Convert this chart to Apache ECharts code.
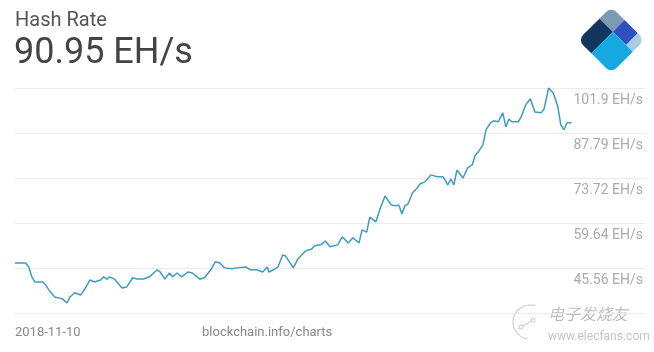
<!DOCTYPE html>
<html>
<head>
<meta charset="utf-8">
<script src="https://cdn.jsdelivr.net/npm/echarts@6/dist/echarts.min.js"></script>
<style>
  html, body { margin: 0; padding: 0; background: #fff; }
  #chart { width: 654px; height: 352px; }
</style>
</head>
<body>
<div id="chart"></div>
<script>
// days since 2018-11-10
var days = [0,1,2,7,9,11,13,18,20,23,
  26,31,34,36,39,43,46,49,52,56,
  58,60,62,65,70,73,77,80,84,88,
  93,95,98,101,103,106,109,113,116,121,
  124,128,131,134,137,142,145,151,154,158,
  162,165,166,169,172,175,177,182,185,190,
  194,196,200,203,206,211,214,218,221,225,
  227,230,232,236,239,242,246,249,251,253,
  255,257,260,263,265,268,272,276,280,283,
  285,287,289,293,296,299,301,303,306,308,
  311,313,316,319,321,323,325,329,331,334,
  337,340,344,346,349,352,355,357,359,361,
  364];
// hash rate, EH/s
var hashRate = [47.1,46.5,47.1,47.1,45.9,42.8,41.2,41.2,40.3,38.1,
  36.5,35.9,34.6,36.5,37.8,37.1,39.3,41.8,41.2,41.8,
  42.8,42.1,42.8,42.1,39.3,39.6,42.5,42.1,42.1,42.8,
  45.0,44.3,42.1,44.0,42.8,44.0,42.8,44.3,44.0,42.1,
  42.5,45.0,47.5,47.1,45.6,45.3,45.6,45.9,45.0,45.0,
  44.3,45.9,44.3,45.0,45.9,49.6,49.3,45.6,48.4,50.9,
  51.5,52.5,52.8,54.0,52.2,52.8,55.3,53.4,55.0,53.4,
  57.5,56.8,61.5,60.0,64.4,68.1,65.3,65.0,65.3,62.5,
  65.0,65.6,69.1,70.6,71.9,72.5,74.7,74.1,74.1,71.6,
  73.4,71.6,76.2,73.7,76.9,77.8,80.9,81.9,84.1,88.8,
  91.0,91.6,91.3,94.1,89.7,92.2,91.3,91.3,92.8,96.6,
  98.5,94.4,94.1,95.3,101.9,100.3,96.0,90.3,88.8,91.0,
  91.0];
var tickLabels = ['45.56 EH/s','59.64 EH/s','73.72 EH/s','87.79 EH/s','101.9 EH/s'];

var chart = echarts.init(document.getElementById('chart'));

var points = [];
for (var i = 0; i < Math.min(days.length, hashRate.length); i++) {
  points.push([days[i], hashRate[i]]);
}

// logo: square turned 45deg, pieces in units of its side
var side = 47;
function piece(u0, u1, v0, v1, color, r) {
  return {
    type: 'rect',
    shape: { x: u0 * side, y: v0 * side, width: (u1 - u0) * side, height: (v1 - v0) * side, r: r },
    style: { fill: color }
  };
}

chart.setOption({
  animation: false,
  grid: { left: 15, right: 9, top: 88, bottom: 39 },
  xAxis: { type: 'value', min: 0, max: 412, show: false },
  yAxis: {
    type: 'value',
    position: 'right',
    min: 31.48,
    max: 101.88,
    interval: 14.08,
    axisLine: { show: false },
    axisTick: { show: false },
    splitLine: { lineStyle: { color: '#ebebeb', width: 1 } },
    axisLabel: {
      inside: true,
      margin: 2,
      showMinLabel: false,
      verticalAlign: 'top',
      padding: [5, 0, 0, 0],
      color: '#aaaaaa',
      fontFamily: 'Roboto',
      fontSize: 14,
      formatter: function (v, idx) {
        return idx >= 1 ? (tickLabels[idx - 1] || '') : '';
      }
    }
  },
  series: [{
    type: 'line',
    data: points,
    symbol: 'none',
    lineStyle: { color: '#3d9dc0', width: 1.5 }
  }],
  graphic: [
    { type: 'text', left: 15, top: 11, style: { text: 'Hash Rate', fill: '#555', font: '20px Roboto' } },
    { type: 'text', left: 14, top: 36, style: { text: '90.95 EH/s', fill: '#444', font: '36px Roboto' } },
    { type: 'text', left: 15, top: 326, style: { text: '2018-11-10', fill: '#888', font: '13px Roboto' } },
    { type: 'text', left: 202, top: 326, style: { text: 'blockchain.info/charts', fill: '#888', font: '13px Roboto' } },
    // watermark
    { type: 'arc', shape: { cx: 530, cy: 322, r: 17, startAngle: Math.PI * 0.55, endAngle: Math.PI * 1.6 },
      style: { stroke: '#cfcfcf', lineWidth: 1.2, fill: null } },
    { type: 'circle', shape: { cx: 521, cy: 327, r: 2 }, style: { stroke: '#c8c8c8', fill: null } },
    { type: 'circle', shape: { cx: 533, cy: 320, r: 2 }, style: { stroke: '#c8c8c8', fill: null } },
    { type: 'line', shape: { x1: 522.5, y1: 326, x2: 531.5, y2: 321 }, style: { stroke: '#c8c8c8' } },
    { type: 'text', left: 548, top: 306, style: { text: '电子发烧友', fill: '#bdbdbd', font: 'italic 16px "Noto Sans CJK SC"' } },
    { type: 'text', left: 548, top: 331, style: { text: 'www.elecfans.com', fill: '#c4c4c4', font: '12px Roboto' } },
    {
      type: 'group',
      x: 578, y: 40,
      rotation: Math.PI / 4,
      children: [
        piece(0, 0.65, 0, 0.4, '#12365f', [7, 0, 0, 0]),
        piece(0.65, 1, 0, 0.4, '#7b9bb5', [0, 7, 0, 0]),
        piece(0.65, 1, 0.4, 0.8, '#2e50c0', 0),
        piece(0.65, 1, 0.8, 1, '#a9cbe3', [0, 0, 7, 0]),
        piece(0, 0.65, 0.4, 1, '#16a8e1', [0, 0, 0, 7])
      ]
    }
  ]
});
</script>
</body>
</html>
